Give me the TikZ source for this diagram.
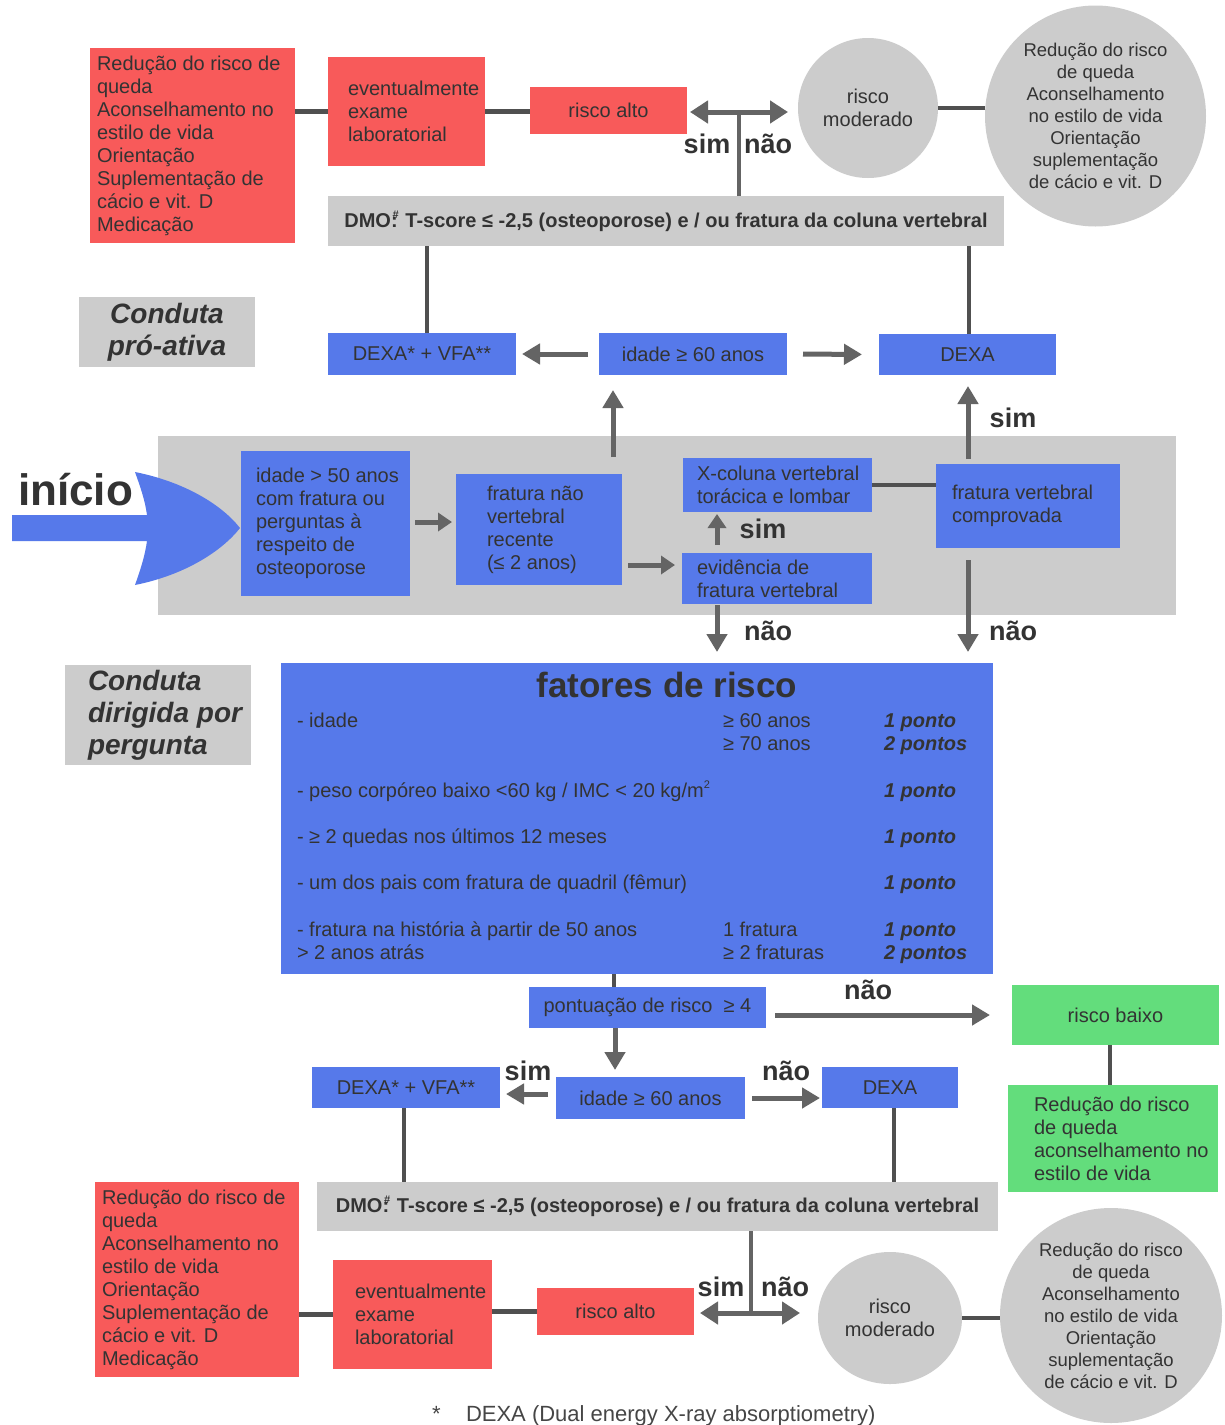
\documentclass[tikz,border=0pt]{standalone}
\usepackage{fontspec}
\setmainfont{Liberation Sans}
\usetikzlibrary{arrows.meta,shapes.geometric,calc}
\definecolor{boxred}{RGB}{248,90,90}
\definecolor{boxblue}{RGB}{86,121,234}
\definecolor{boxgray}{RGB}{204,204,204}
\definecolor{boxgreen}{RGB}{99,221,124}
\definecolor{arrgray}{RGB}{100,100,100}
\definecolor{linegray}{RGB}{80,80,80}
\definecolor{txt}{RGB}{51,51,51}
\definecolor{footgray}{RGB}{70,70,70}
\newcommand\fs[2]{\fontsize{#1}{#2}\selectfont}
\newcommand\dmotxt{DMO:\kern-5pt\raisebox{9pt}{\fs{11}{11}\#}\kern1pt\ T-score ≤ -2,5 (osteoporose) e / ou fratura da coluna vertebral}
\begin{document}
\begin{tikzpicture}[x=1pt,y=-1pt,
 base/.style={inner sep=0pt, outer sep=0pt, text=txt, font=\fs{20}{23}},
 redbox/.style={base, rectangle, fill=boxred},
 bluebox/.style={base, rectangle, fill=boxblue},
 greybox/.style={base, rectangle, fill=boxgray},
 greenbox/.style={base, rectangle, fill=boxgreen},
 roundgrey/.style={base, ellipse, fill=boxgray, align=center},
 tl/.style={base, align=left, anchor=west},
 dmotext/.style={font=\bfseries\fs{20}{23}},
 conduta/.style={font=\bfseries\itshape\fs{28}{32}},
 yn/.style={base, font=\bfseries\fs{27}{27}},
 link/.style={draw=linegray, line width=4.5pt},
 arr/.style={draw=arrgray, line width=5pt, -{Triangle[length=18pt,width=20pt]}},
 arrs/.style={draw=arrgray, line width=5pt, -{Triangle[length=14pt,width=18pt]}},
 dbl/.style={draw=arrgray, line width=5pt, {Triangle[length=18pt,width=22pt]}-{Triangle[length=18pt,width=22pt]}},
 row/.style={base, anchor=base west},
 pts/.style={base, anchor=base west, font=\bfseries\itshape\fs{20}{23}},
]
\useasboundingbox (0,0) rectangle (1225,1425);
\fill[white] (0,0) rectangle (1225,1425);

% ---------- top section ----------
\node[redbox, minimum width=205pt, minimum height=195pt] (red1) at (192.5,145.5) {};
\node[tl] (red1t) at ([xshift=7pt]red1.west) {Redução do risco de\\queda\\Aconselhamento no\\estilo de vida\\Orientação\\Suplementação de\\cácio e vit. D\\Medicação};
\node[redbox, minimum width=157pt, minimum height=109pt] (lab1) at (406.5,111.5) {};
\node[tl] (lab1t) at ([xshift=20pt]lab1.west) {eventualmente\\exame\\laboratorial};
\node[redbox, minimum width=157pt, minimum height=47pt] (ralto1) at (608.5,110.5) {risco alto};
\node[roundgrey, minimum width=140pt, minimum height=140pt] (rmod1) at (868,108) {risco\\moderado};
\node[roundgrey, minimum width=221pt, minimum height=221pt, font=\fs{18.5}{22}] (ell1) at (1095.5,116) {Redução do risco\\de queda\\Aconselhamento\\no estilo de vida\\Orientação\\suplementação\\de cácio e vit. D};
\node[greybox, dmotext, minimum width=676pt, minimum height=50pt] (dmo1) at (666,221) {\dmotxt};
\node[greybox, conduta, align=center, minimum width=176pt, minimum height=70pt] (cond1) at (167,332) {Conduta\\pró-ativa};
\node[bluebox, minimum width=188pt, minimum height=42pt] (dv1) at (422,354) {DEXA* + VFA**};
\node[bluebox, minimum width=188pt, minimum height=42pt] (id1) at (693,354) {idade ≥ 60 anos};
\node[bluebox, minimum width=177pt, minimum height=41pt] (dexa1) at (967.5,354.5) {DEXA};

\coordinate (j1) at (739,112);
\draw[link] (red1.east |- lab1.west) -- (lab1.west);
\draw[link] (lab1.east) -- (lab1.east -| ralto1.west);
\draw[draw=arrgray, line width=4.5pt] (dmo1.north -| j1) -- (j1);
\draw[dbl, shorten <=3pt, shorten >=10pt] (ralto1.east |- j1) -- (rmod1.west |- j1);
\node[yn] (sim0) at (707,144) {sim};
\node[yn] (nao0) at (768,144) {não};
\draw[link] (rmod1.east) -- (rmod1.east -| ell1.west);
\draw[link] ([xshift=5pt]dv1.north) -- ([xshift=5pt]dv1.north |- dmo1.south);
\draw[link] ([xshift=1.5pt]dexa1.north) -- ([xshift=1.5pt]dexa1.north |- dmo1.south);
\draw[arr, shorten <=11pt, shorten >=6pt] (id1.west) -- (dv1.east);
\draw[arr, shorten <=16pt, shorten >=17pt] (id1.east) -- (dexa1.west);

% ---------- start area ----------
\node[greybox, minimum width=1018pt, minimum height=179pt] (area) at (667,525.5) {};
\node[bluebox, minimum width=169pt, minimum height=145pt] (q50) at (325.5,523.5) {};
\node[tl] (q50t) at ([xshift=15pt]q50.west) {idade > 50 anos\\com fratura ou\\perguntas à\\respeito de\\osteoporose};
\node[bluebox, minimum width=166pt, minimum height=111pt] (fnv) at (539,529.5) {};
\node[tl] (fnvt) at ([xshift=31pt]fnv.west) {fratura não\\vertebral\\recente\\(≤ 2 anos)};
\node[bluebox, minimum width=190pt, minimum height=51pt] (evid) at (777,578.5) {};
\node[tl] (evidt) at ([xshift=15pt]evid.west) {evidência de\\fratura vertebral};
\node[bluebox, minimum width=189pt, minimum height=54pt] (xcol) at (777.5,485) {};
\node[tl] (xcolt) at ([xshift=14pt]xcol.west) {X-coluna vertebral\\torácica e lombar};
\node[bluebox, minimum width=184pt, minimum height=84pt] (fvc) at (1028,506) {};
\node[tl] (fvct) at ([xshift=16pt]fvc.west) {fratura vertebral\\comprovada};

\node[base, font=\bfseries\fs{44}{44}] (inicio) at (75.5,490) {início};
\fill[boxblue] (12,515) -- (147,515) .. controls (145,500) and (140,486) .. (135,472)
  .. controls (185,482) and (222,505) .. (240,528)
  .. controls (222,551) and (185,575) .. (135,585)
  .. controls (140,571) and (145,556) .. (147,541) -- (12,541) -- cycle;

\draw[arr, shorten <=17pt, shorten >=15pt] ([xshift=74pt]fnv.north) -- ([xshift=74pt]fnv.north |- id1.south);
\draw[arr, shorten <=5pt, shorten >=11pt] ([xshift=-60pt]fvc.north) -- ([xshift=-60pt]fvc.north |- dexa1.south);
\node[yn] (sim1) at (1013,418) {sim};
\draw[arrs, shorten <=5pt, shorten >=4pt] ([yshift=1.5pt]q50.east) -- ([yshift=1.5pt]q50.east -| fnv.west);
\draw[arrs, shorten <=6pt, shorten >=7pt] ([yshift=13.5pt]evid.west -| fnv.east) -- ([yshift=13.5pt]evid.west);
\draw[arrs, shorten <=8pt, shorten >=2pt] ([xshift=-60pt]evid.north) -- ([xshift=-60pt]evid.north |- xcol.south);
\node[yn] (sim2) at (763,529) {sim};
\draw[link] (xcol.east) -- (xcol.east -| fvc.west);

% ---------- risk factors ----------
\node[greybox, minimum width=186pt, minimum height=100pt] (cond2) at (158,715) {};
\node[tl, conduta] (cond2t) at ([xshift=23pt]cond2.west) {Conduta\\dirigida por\\pergunta};
\node[bluebox, minimum width=712pt, minimum height=311pt] (fat) at (637,818.5) {};
\node[base, font=\bfseries\fs{35}{35}, anchor=base] (fatt) at (667,697) {fatores de risco};
\node[row] (r1a) at (297,727) {- idade};
\node[row] (r1b) at (723,727) {≥ 60 anos};
\node[pts] (r1c) at (884,727) {1 ponto};
\node[row] (r2b) at (723,750) {≥ 70 anos};
\node[pts] (r2c) at (884,750) {2 pontos};
\node[row] (r3a) at (297,797) {- peso corpóreo baixo <60 kg / IMC < 20 kg/m\raisebox{9pt}{\fs{11}{11}2}};
\node[pts] (r3c) at (884,797) {1 ponto};
\node[row] (r4a) at (297,843) {- ≥ 2 quedas nos últimos 12 meses};
\node[pts] (r4c) at (884,843) {1 ponto};
\node[row] (r5a) at (297,889) {- um dos pais com fratura de quadril (fêmur)};
\node[pts] (r5c) at (884,889) {1 ponto};
\node[row] (r6a) at (297,936) {- fratura na história à partir de 50 anos};
\node[row] (r6b) at (723,936) {1 fratura};
\node[pts] (r6c) at (884,936) {1 ponto};
\node[row] (r7a) at (297,959) {> 2 anos atrás};
\node[row] (r7b) at (723,959) {≥ 2 fraturas};
\node[pts] (r7c) at (884,959) {2 pontos};

\draw[arr, shorten <=1pt, shorten >=11pt] ([xshift=-60pt]evid.south) -- ([xshift=-60pt]evid.south |- fat.north);
\draw[arr, shorten <=12pt, shorten >=11pt] ([xshift=-60pt]fvc.south) -- ([xshift=-60pt]fvc.south |- fat.north);
\node[yn] (nao2) at (768,631) {não};
\node[yn] (nao3) at (1013,631) {não};

% ---------- bottom section ----------
\node[bluebox, minimum width=237pt, minimum height=41pt] (pont) at (647.5,1007.5) {pontuação de risco\ \ ≥ 4};
\node[greenbox, minimum width=207pt, minimum height=60pt] (rbaixo) at (1115.5,1015) {risco baixo};
\node[greenbox, minimum width=210pt, minimum height=107pt] (gr2) at (1113,1138.5) {};
\node[tl] (gr2t) at ([xshift=26pt]gr2.west) {Redução do risco\\de queda\\aconselhamento no\\estilo de vida};
\node[bluebox, minimum width=189pt, minimum height=42pt] (id2) at (650.5,1098) {idade ≥ 60 anos};
\node[bluebox, minimum width=188pt, minimum height=41pt] (dv2) at (406,1087.5) {DEXA* + VFA**};
\node[bluebox, minimum width=136pt, minimum height=41pt] (dexa2) at (890,1087.5) {DEXA};
\node[greybox, dmotext, minimum width=681pt, minimum height=49pt] (dmo2) at (657.5,1206.5) {\dmotxt};
\node[redbox, minimum width=204pt, minimum height=195pt] (red2) at (197,1279.5) {};
\node[tl] (red2t) at ([xshift=7pt]red2.west) {Redução do risco de\\queda\\Aconselhamento no\\estilo de vida\\Orientação\\Suplementação de\\cácio e vit. D\\Medicação};
\node[redbox, minimum width=159pt, minimum height=109pt] (lab2) at (412.5,1314.5) {};
\node[tl] (lab2t) at ([xshift=22pt]lab2.west) {eventualmente\\exame\\laboratorial};
\node[redbox, minimum width=157pt, minimum height=47pt] (ralto2) at (615.5,1311.5) {risco alto};
\node[roundgrey, minimum width=144pt, minimum height=132pt] (rmod2) at (890,1318) {risco\\moderado};
\node[roundgrey, minimum width=222pt, minimum height=215pt, font=\fs{18.5}{22}] (ell2) at (1111,1315.5) {Redução do risco\\de queda\\Aconselhamento\\no estilo de vida\\Orientação\\suplementação\\de cácio e vit. D};

\draw[link] ([xshift=-33.5pt]pont.north) -- ([xshift=-33.5pt]pont.north |- fat.south);
\draw[arr, shorten <=9pt, shorten >=22pt] (pont.east |- rbaixo.west) -- (rbaixo.west);
\node[yn] (nao4) at (868,990) {não};
\draw[link] ([xshift=-5.5pt]rbaixo.south) -- ([xshift=-5.5pt]rbaixo.south |- gr2.north);
\draw[arr, shorten >=7pt] ([xshift=-32.5pt]pont.south) -- ([xshift=-32.5pt]pont.south |- id2.north);
\draw[arr, shorten <=8pt, shorten >=6pt] ([yshift=4pt]id2.west) -- ([yshift=4pt]id2.west -| dv2.east);
\node[yn] (sim3) at (528,1071) {sim};
\draw[arr, shorten <=7pt, shorten >=2pt] (id2.east) -- (id2.east -| dexa2.west);
\node[yn] (nao5) at (786,1071) {não};
\draw[link] ([xshift=-2pt]dv2.south) -- ([xshift=-2pt]dv2.south |- dmo2.north);
\draw[link] ([xshift=4pt]dexa2.south) -- ([xshift=4pt]dexa2.south |- dmo2.north);
\coordinate (j2) at (751,1313);
\draw[draw=arrgray, line width=4.5pt] (dmo2.south -| j2) -- (j2);
\draw[dbl, shorten <=6pt, shorten >=18pt] (ralto2.east |- j2) -- (rmod2.west |- j2);
\node[yn] (sim4) at (721,1287) {sim};
\node[yn] (nao6) at (785,1287) {não};
\draw[link] (red2.east |- lab2.west) -- (lab2.west);
\draw[link] (lab2.east |- ralto2.west) -- (ralto2.west);
\draw[link] (rmod2.east) -- (rmod2.east -| ell2.west);

% ---------- footnote ----------
\node[base, anchor=base west, text=footgray, font=\fs{22}{25}] (footstar) at (432,1421) {*};
\node[base, anchor=base west, text=footgray, font=\fs{22}{25}] (foot) at (466,1421) {DEXA (Dual energy X-ray absorptiometry)};
\end{tikzpicture}
\end{document}
